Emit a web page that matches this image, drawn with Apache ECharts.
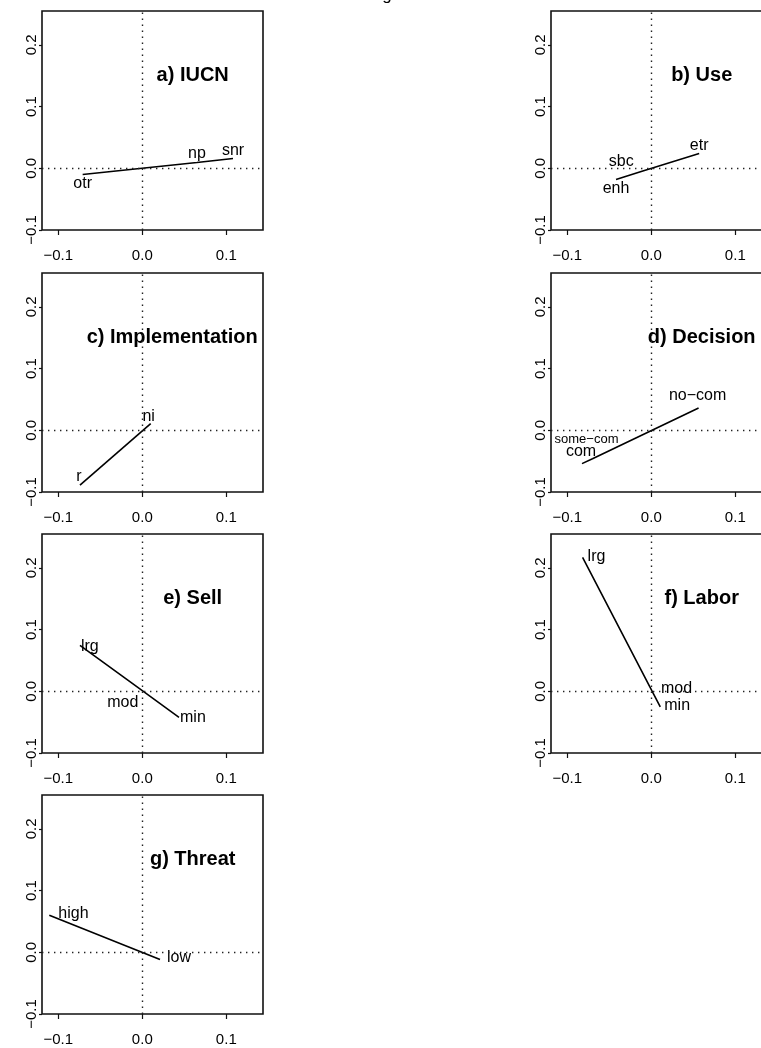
<!DOCTYPE html>
<html><head><meta charset="utf-8">
<script src="https://cdn.jsdelivr.net/npm/echarts@6/dist/echarts.min.js"></script>
<style>html,body{margin:0;padding:0;background:#fff;overflow:hidden}#c{width:800px;height:1048px}</style>
</head><body><div id="c"></div><script>
// ---- data ----
const figureTitle = 'Figure';
const panelTitles = ['a) IUCN', 'b) Use', 'c) Implementation', 'd) Decision', 'e) Sell', 'f) Labor', 'g) Threat'];
const catsA = ['otr', 'np', 'snr'];           const xA = [-0.071, 0.065, 0.108];   const yA = [-0.010, 0.0095, 0.016];
const catsB = ['enh', 'sbc', 'etr'];          const xB = [-0.042, -0.012, 0.057];  const yB = [-0.018, -0.005, 0.024];
const catsC = ['r', 'ni'];                    const xC = [-0.0742, 0.010];         const yC = [-0.089, 0.0109];
const catsD = ['com', 'some\u2212com', 'no\u2212com']; const xD = [-0.0825, -0.070, 0.0563]; const yD = [-0.054, -0.046, 0.0361];
const catsE = ['lrg', 'mod', 'min'];          const xE = [-0.0742, 0.000, 0.0437]; const yE = [0.0746, 0.001, -0.0421];
const catsF = ['lrg', 'mod', 'min'];          const xF = [-0.0818, 0.002, 0.0107]; const yF = [0.217, -0.0025, -0.0253];
const catsG = ['high', 'low'];                const xG = [-0.1107, 0.0211];        const yG = [0.060, -0.0118];
const xTicks = [-0.1, 0.0, 0.1];
const yTicks = [-0.1, 0.0, 0.1, 0.2];
const xRange = [-0.1194, 0.1437];
const yRange = [-0.1, 0.255];
const titleX = [0.06, 0.06, 0.0356, 0.06, 0.06, 0.06, 0.06];
const titleY = [0.15, 0.15, 0.15, 0.15, 0.15, 0.15, 0.15];

// ---- layout / style (kept apart from data) ----
const colLeft = [42, 551];
const rowTop = [11, 273, 534, 795];
const boxW = 221, boxH = 219;
const FONT = "'Liberation Sans', Arial, Helvetica, sans-serif";
// label placement per point: [align, dx, dy, fontSize]
const place = [
  [['center', 0, 9, 16], ['center', 0, -9, 16], ['center', 0, -8, 16]],
  [['center', 0, 9, 16], ['center', -20, -10, 16], ['center', 0, -8, 16]],
  [['center', -1, -9, 16], ['center', -2, -7, 16]],
  [['center', -1, -12, 16], ['center', -6, -19, 13], ['center', -1, -12, 16]],
  [['left', 1, 1, 16], ['right', -4, 12, 16], ['left', 1, 0, 16]],
  [['left', 5, -1, 16], ['left', 8, -4, 16], ['left', 4, -1, 16]],
  [['left', 9, -2, 16], ['left', 7, -2, 16]]
];

const panels = [
  [catsA, xA, yA], [catsB, xB, yB], [catsC, xC, yC], [catsD, xD, yD],
  [catsE, xE, yE], [catsF, xF, yF], [catsG, xG, yG]
];

const fmt = v => (Math.abs(v) < 1e-9 ? 0 : v).toFixed(1).replace('-', '\u2212');

const grid = [], xAxis = [], yAxis = [], series = [];
panels.forEach((p, i) => {
  const col = i % 2, row = Math.floor(i / 2);
  grid.push({ left: colLeft[col], top: rowTop[row], width: boxW, height: boxH,
    show: true, borderColor: '#111', borderWidth: 1.6, backgroundColor: 'transparent', containLabel: false });
  xAxis.push({ type: 'value', gridIndex: i, min: xRange[0], max: xRange[1],
    splitLine: { show: false }, axisLine: { show: false, onZero: false },
    axisTick: { show: true, inside: false, length: 5, customValues: xTicks, lineStyle: { color: '#111', width: 1.2 } },
    axisLabel: { show: true, customValues: xTicks, formatter: fmt, margin: 18, color: '#000', fontSize: 15, fontFamily: FONT } });
  yAxis.push({ type: 'value', gridIndex: i, min: yRange[0], max: yRange[1],
    splitLine: { show: false }, axisLine: { show: false, onZero: false },
    axisTick: { show: true, inside: false, length: 3, customValues: yTicks, lineStyle: { color: '#111', width: 1.2 } },
    axisLabel: { show: true, customValues: yTicks, formatter: fmt, rotate: 90, margin: 3, color: '#000', fontSize: 15, fontFamily: FONT } });
  const [cats, xs, ys] = p;
  series.push({
    type: 'line', xAxisIndex: i, yAxisIndex: i,
    data: cats.map((c, k) => {
      const [al, dx, dy, fs] = place[i][k];
      return { name: c, value: [xs[k], ys[k]],
        label: { show: true, position: 'inside', align: al, verticalAlign: 'middle', offset: [dx, dy], fontSize: fs,
          formatter: c, color: '#000', fontFamily: FONT } };
    }),
    symbol: 'circle', symbolSize: 1, itemStyle: { color: 'rgba(0,0,0,0)' },
    lineStyle: { color: '#000', width: 1.6 },
    z: 3,
    markLine: { silent: true, symbol: 'none', animation: false, label: { show: false },
      lineStyle: { color: '#222', width: 1.4, type: [1.4, 4.6] },
      data: [{ xAxis: 0 }, { yAxis: 0 }] }
  });
  series.push({
    type: 'scatter', xAxisIndex: i, yAxisIndex: i, symbolSize: 0, z: 4,
    itemStyle: { opacity: 1, color: '#000' },
    data: [{ name: panelTitles[i], value: [titleX[i], titleY[i]] }],
    label: { show: true, position: 'inside', formatter: panelTitles[i], fontSize: 20, fontWeight: 'bold',
      color: '#000', opacity: 1, textBorderWidth: 0, fontFamily: FONT }
  });
});

const chart = echarts.init(document.getElementById('c'), null, { renderer: 'canvas' });
chart.setOption({
  animation: false, backgroundColor: '#fff', grid, xAxis, yAxis, series,
  graphic: [{ type: 'text', left: 368, top: -13, silent: true,
    style: { text: figureTitle, fontSize: 17, fontFamily: FONT, fill: '#000' } }]
});
</script></body></html>
